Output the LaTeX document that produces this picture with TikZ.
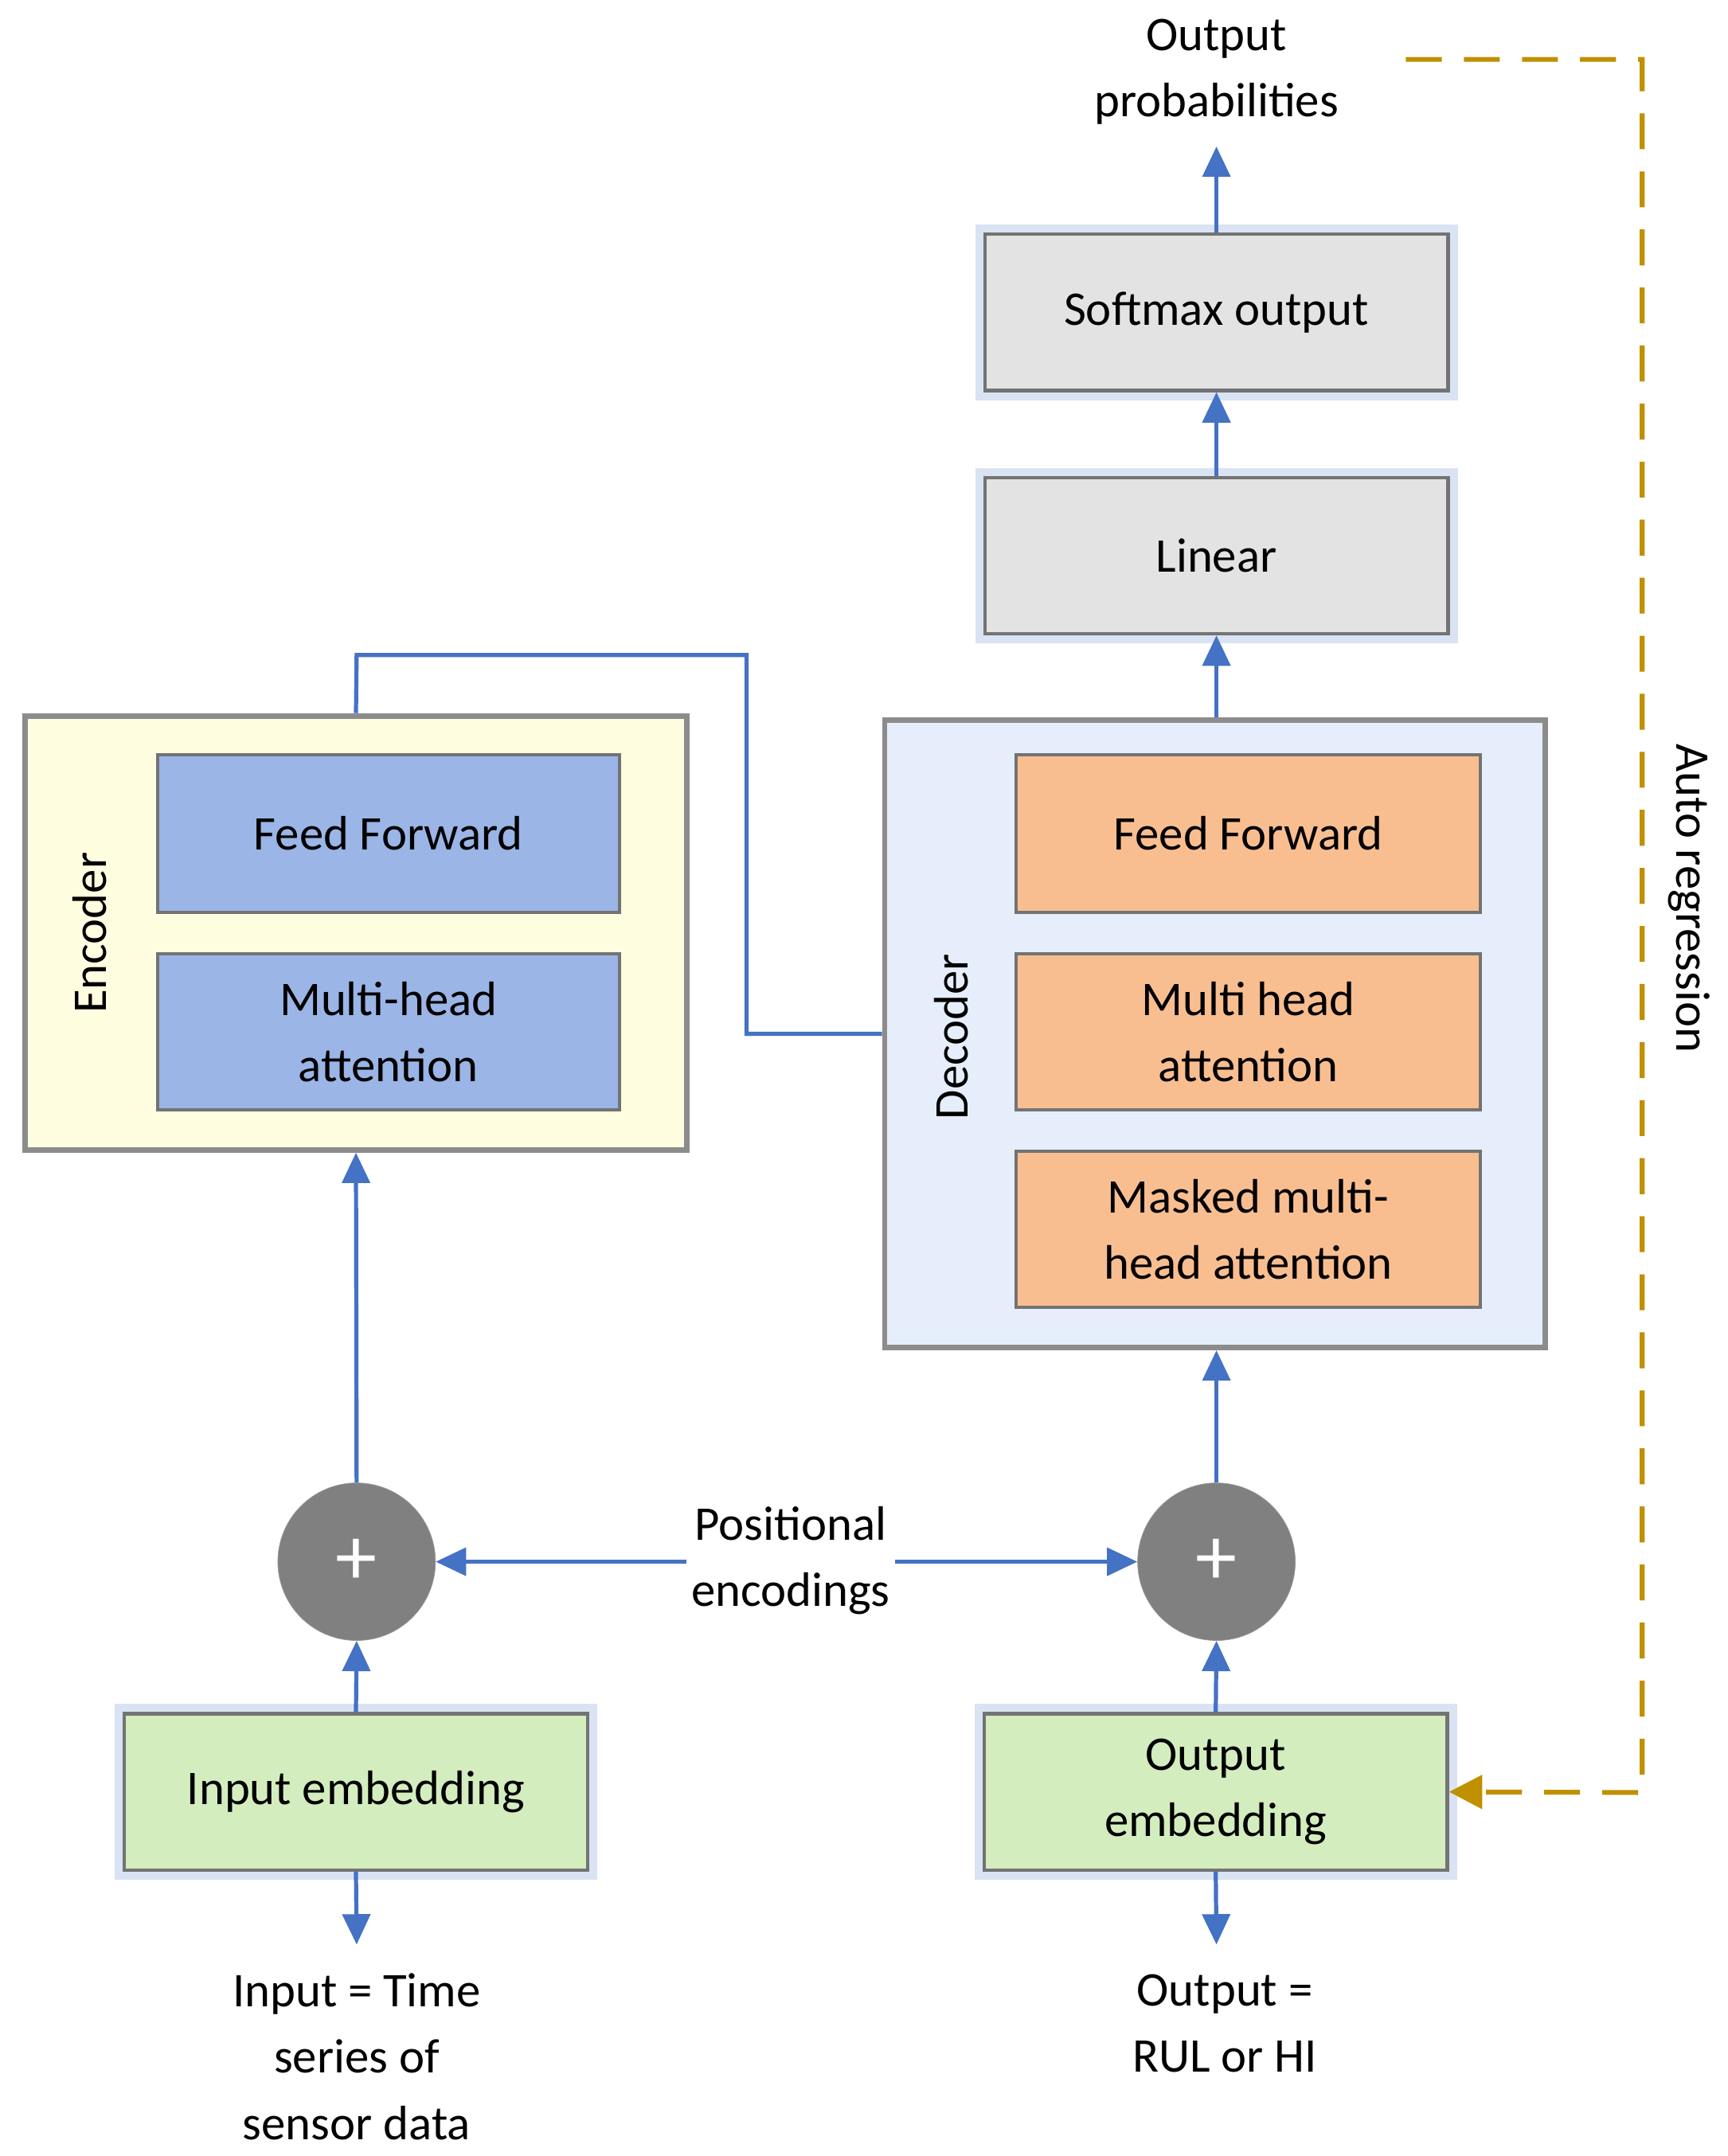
\documentclass[tikz,border=0pt]{standalone}
\usepackage{fontspec}
\setmainfont{Carlito}
\usetikzlibrary{arrows.meta,positioning}
\definecolor{arr}{HTML}{4472C4}
\definecolor{gold}{HTML}{BF9000}
\definecolor{encb}{HTML}{FFFDE0}
\definecolor{decb}{HTML}{E6EEFB}
\definecolor{blueb}{HTML}{9AB5E6}
\definecolor{orb}{HTML}{F9BE90}
\definecolor{grb}{HTML}{E3E3E3}
\definecolor{gnb}{HTML}{D3EDBF}
\tikzset{
  bx/.style={draw=black!55,line width=2.5pt,minimum width=#1,inner sep=0pt,align=center,
    font=\fontsize{35}{48}\selectfont},
  glow/.style={bx=335pt,minimum height=113pt,preaction={draw=arr!45,line width=14pt,opacity=0.45}},
  outer/.style={draw=black!45,line width=4pt,inner sep=0pt},
  con/.style={draw=arr,line width=3pt},
  ar/.style={con,-{Triangle[length=22pt,width=20pt]}},
  plus/.style={circle,fill=black!50,draw=black!40,minimum size=114pt,text=white,font=\fontsize{60}{60}\selectfont,inner sep=0pt},
  lbl/.style={align=center,font=\fontsize{35}{48}\selectfont},
}
\begin{document}
\begin{tikzpicture}[x=1pt,y=-1pt]
\useasboundingbox (0,0) rectangle (1250,1560);
% top boxes
\node[glow,fill=grb] (soft) at (880,226) {Softmax output};
\node[glow,fill=grb] (lin) at (880,402) {Linear};
\node[lbl] (outp) at (880,52) {Output\\probabilities};
% encoder
\node[outer,fill=encb,minimum width=479pt,minimum height=314pt] (enc) at (257.5,675) {};
\node[rotate=90,lbl] (encl) at (65,675) {Encoder};
\node[bx=334pt,minimum height=114pt,fill=blueb] (eff) at (281,603) {Feed Forward};
\node[bx=334pt,minimum height=113pt,fill=blueb] (emh) at (281,746.5) {Multi-head\\attention};
% decoder
\node[outer,fill=decb,minimum width=478pt,minimum height=454pt] (dec) at (879,748) {};
\node[rotate=90,lbl] (decl) at (688,750) {Decoder};
\node[bx=336pt,minimum height=114pt,fill=orb] (dff) at (903,603) {Feed Forward};
\node[bx=336pt,minimum height=113pt,fill=orb] (dmh) at (903,746.5) {Multi head\\attention};
\node[bx=336pt,minimum height=113pt,fill=orb] (dmm) at (903,889.5) {Masked multi-\\head attention};
% plus
\node[plus] (p1) at (258,1130) {+};
\node[plus] (p2) at (880,1130) {+};
\node[lbl] (pos) at (572,1129) {Positional\\encodings};
% embeddings
\node[glow,fill=gnb] (ie) at (257.5,1296.5) {Input embedding};
\node[glow,fill=gnb] (oe) at (879.5,1296.5) {Output\\embedding};
\node[lbl] (inp) at (258,1488) {Input = Time\\series of\\sensor data};
\node[lbl] (outv) at (886,1464) {Output =\\RUL or HI};
\coordinate (ib) at (258,1407);
\coordinate (ob) at (880,1407);
\coordinate (top) at (880,106);
% arrows
\draw[ar] (soft.north) -- (top);
\draw[ar] (lin.north) -- (soft.south);
\draw[ar] (dec.north -| lin) -- (lin.south);
\draw[ar] (p1.north) -- (enc.south);
\draw[ar] (p2.north) -- (dec.south -| p2);
\draw[ar] (ie.north) -- (p1.south);
\draw[ar] (oe.north) -- (p2.south);
\draw[ar] (ie.south) -- (ib);
\draw[ar] (oe.south) -- (ob);
\draw[ar] (pos.west |- p1) -- (p1.east);
\draw[ar] (pos.east |- p2) -- (p2.west);
\draw[con] (enc.north) -- (258,474) -- (540,474) -- (540,748) -- (dec.west);
% auto regression
\draw[gold,line width=3.5pt,dash pattern=on 26pt off 16pt,-{Triangle[length=24pt,width=24pt]}]
  (1017,43) -- (1188,43) -- (1188,1297) -- (oe.east);
\node[rotate=-90,lbl] (auto) at (1222,650) {Auto regression};
\end{tikzpicture}
\end{document}
